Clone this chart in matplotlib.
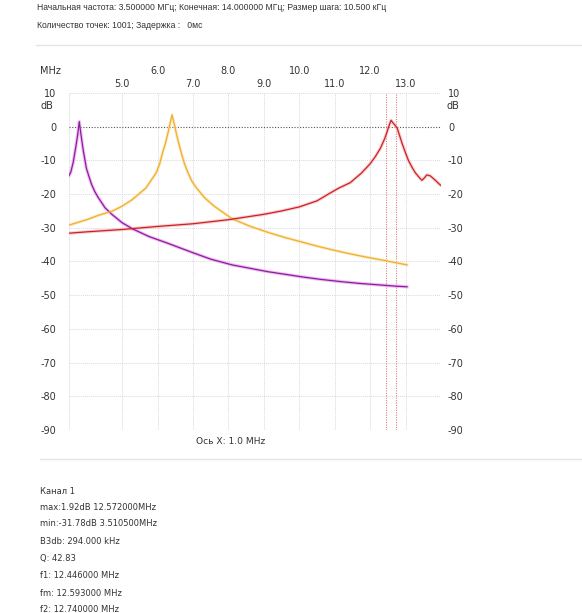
from matplotlib import pyplot as plt
# Library for charting

# Frequencies (MHz) and levels (dB)
purple_f = [3.50, 3.55, 3.62, 3.70, 3.75, 3.79, 3.84, 3.90, 3.99, 4.07, 4.14, 4.23, 4.33,
            4.52, 4.71, 5.00, 5.29, 5.76, 6.24, 6.62, 7.00, 7.50, 8.10, 8.60, 9.10, 9.60,
            10.10, 10.60, 11.20, 11.70, 12.20, 12.70, 13.04]
purple_db = [-14.5, -13.5, -10.5, -5.5, -2.0, 1.5, -2.5, -6.9, -12.3, -15.0, -17.2, -19.3, -21.1,
             -24.1, -26.0, -28.5, -30.3, -32.6, -34.4, -35.9, -37.4, -39.3, -41.0, -42.0, -43.0, -43.8,
             -44.6, -45.3, -46.0, -46.5, -46.9, -47.3, -47.5]

yellow_f = [3.50, 4.00, 4.33, 4.71, 5.00, 5.29, 5.67, 5.96, 6.06, 6.14, 6.22, 6.29, 6.35, 6.41,
            6.47, 6.53, 6.60, 6.67, 6.76, 6.86, 6.97, 7.10, 7.33, 7.60, 8.10, 8.60, 9.10, 9.60,
            10.10, 10.60, 11.20, 11.70, 12.20, 12.70, 13.04]
yellow_db = [-29.2, -27.6, -26.3, -25.1, -23.6, -21.6, -18.2, -13.7, -11.0, -7.8, -5.0, -2.0, 0.8, 3.5,
             0.8, -2.0, -5.0, -7.8, -11.0, -13.7, -16.2, -18.2, -21.1, -23.6, -27.3, -29.5, -31.3, -32.9,
             -34.3, -35.7, -37.2, -38.3, -39.3, -40.3, -41.0]

red_f = [3.50, 4.00, 5.00, 6.00, 7.00, 8.00, 8.50, 9.00, 9.50, 10.00, 10.50, 10.87, 11.10,
         11.44, 11.75, 12.00, 12.15, 12.29, 12.40, 12.47, 12.54, 12.59, 12.64, 12.76, 12.90,
         13.00, 13.08, 13.18, 13.27, 13.38, 13.46, 13.53, 13.60, 13.70, 13.85, 13.98, 14.05]
red_db = [-31.6, -31.2, -30.5, -29.6, -28.8, -27.6, -26.8, -26.0, -25.0, -23.8, -22.0, -19.7, -18.3,
          -16.6, -13.8, -11.0, -8.8, -6.4, -3.8, -1.8, 0.5, 1.9, 1.2, -0.3, -4.9,
          -7.8, -10.0, -12.0, -13.6, -15.0, -15.9, -15.2, -14.3, -14.6, -16.0, -17.3, -17.8]

# Marker lines f1 / f2 (MHz)
f1 = 12.446
f2 = 12.740

x_ticks_upper = [6.0, 8.0, 10.0, 12.0]
x_ticks_lower = [5.0, 7.0, 9.0, 11.0, 13.0]
y_ticks = [10, 0, -10, -20, -30, -40, -50, -60, -70, -80, -90]

header = ["Начальная частота: 3.500000 МГц; Конечная: 14.000000 МГц; Размер шага: 10.500 кГц",
          "Количество точек: 1001; Задержка :   0мс"]
footer = ["Канал 1",
          "max:1.92dB 12.572000MHz",
          "min:-31.78dB 3.510500MHz",
          "B3db: 294.000 kHz",
          "Q: 42.83",
          "f1: 12.446000 MHz",
          "fm: 12.593000 MHz",
          "f2: 12.740000 MHz"]

W, H = 582, 613
txt = '#333333'
fs = 7

plt.rcParams['font.family'] = ['DejaVu Sans']
fig = plt.figure(figsize=(W / 100, H / 100), dpi=100)
# Axes placed in pixel terms of the original window
ax = fig.add_axes([69 / W, 1 - 430 / H, 372 / W, 337 / H])
ax.set_xlim(3.5, 14.0)
ax.set_ylim(-90, 10)

# Grid (light dotted), including the frame edges
for x in x_ticks_lower + x_ticks_upper + [3.5, 14.0]:
    ax.axvline(x, color='#d8d8e0', lw=0.7, ls=(0, (1, 1)), zorder=1)
for y in y_ticks:
    if y == 0:
        ax.axhline(y, color='#555555', lw=0.8, ls=(0, (1, 1.5)), zorder=2)
    else:
        ax.axhline(y, color='#d8d8e0', lw=0.7, ls=(0, (1, 1)), zorder=1)

# f1 / f2 markers
for x in [f1, f2]:
    ax.axvline(x, color='#e08080', lw=0.8, ls=(0, (1, 1.2)), zorder=2)

# Curves, a soft halo under a thin core line
ax.plot(purple_f, purple_db, color='#e890e8', lw=2.4, alpha=0.6, zorder=3)
ax.plot(purple_f, purple_db, color='#8a1e9e', lw=0.9, zorder=4)
ax.plot(yellow_f, yellow_db, color='#f8dc9c', lw=2.2, alpha=0.6, zorder=3)
ax.plot(yellow_f, yellow_db, color='#f0b02c', lw=0.9, zorder=4)
ax.plot(red_f, red_db, color='#f4b0b0', lw=2.4, alpha=0.6, zorder=3)
ax.plot(red_f, red_db, color='#cc2026', lw=0.9, zorder=4)

for s in ax.spines.values():
    s.set_visible(False)
ax.set_xticks([])
ax.set_yticks(y_ticks)
ax.set_yticklabels([str(v) for v in y_ticks])
ax.tick_params(axis='y', length=0, pad=9, labelsize=fs, labelcolor=txt)

# Right side labels on a twin axis
ax2 = ax.twinx()
ax2.set_ylim(-90, 10)
ax2.set_yticks(y_ticks)
ax2.set_yticklabels([str(v) for v in y_ticks])
ax2.tick_params(axis='y', length=0, pad=5, labelsize=fs, labelcolor=txt)
for s in ax2.spines.values():
    s.set_visible(False)

# dB unit labels under the 10 dB marks
ax.text(-0.042, 0.961, 'dB', transform=ax.transAxes, ha='right', va='center', fontsize=fs, color=txt)
ax.text(1.016, 0.961, 'dB', transform=ax.transAxes, ha='left', va='center', fontsize=fs, color=txt)

# Frequency labels on top, two staggered rows
tr = ax.get_xaxis_transform()
for x in x_ticks_upper:
    ax.text(x, 1.065, '%.1f' % x, transform=tr, ha='center', va='center', fontsize=fs, color=txt)
for x in x_ticks_lower:
    ax.text(x, 1.027, '%.1f' % x, transform=tr, ha='center', va='center', fontsize=fs, color=txt)
fig.text(40 / W, 1 - 71 / H, 'MHz', ha='left', va='center', fontsize=fs, color=txt)

# Header and footer text
fig.text(37 / W, 1 - 7.5 / H, header[0], ha='left', va='center', fontsize=6.2,
         family='Liberation Sans', color=txt)
fig.text(37 / W, 1 - 26 / H, header[1], ha='left', va='center', fontsize=6.2,
         family='Liberation Sans', color=txt)
fig.add_artist(plt.Line2D([36 / W, 1], [1 - 45 / H, 1 - 45 / H], color='#e4e4e4', lw=1))
fig.text(196 / W, 1 - 442 / H, 'Ось X: 1.0 MHz', ha='left', va='center', fontsize=6.6, color=txt)
fig.add_artist(plt.Line2D([40 / W, 1], [1 - 459 / H, 1 - 459 / H], color='#e4e4e4', lw=1))

ys = [491, 507.5, 524, 541.5, 559, 576, 593, 610]
for y, line in zip(ys, footer):
    fig.text(40 / W, 1 - y / H, line, ha='left', va='center', fontsize=6.0, color=txt)

fig.savefig('out.png', dpi=100)
plt.close(fig)
